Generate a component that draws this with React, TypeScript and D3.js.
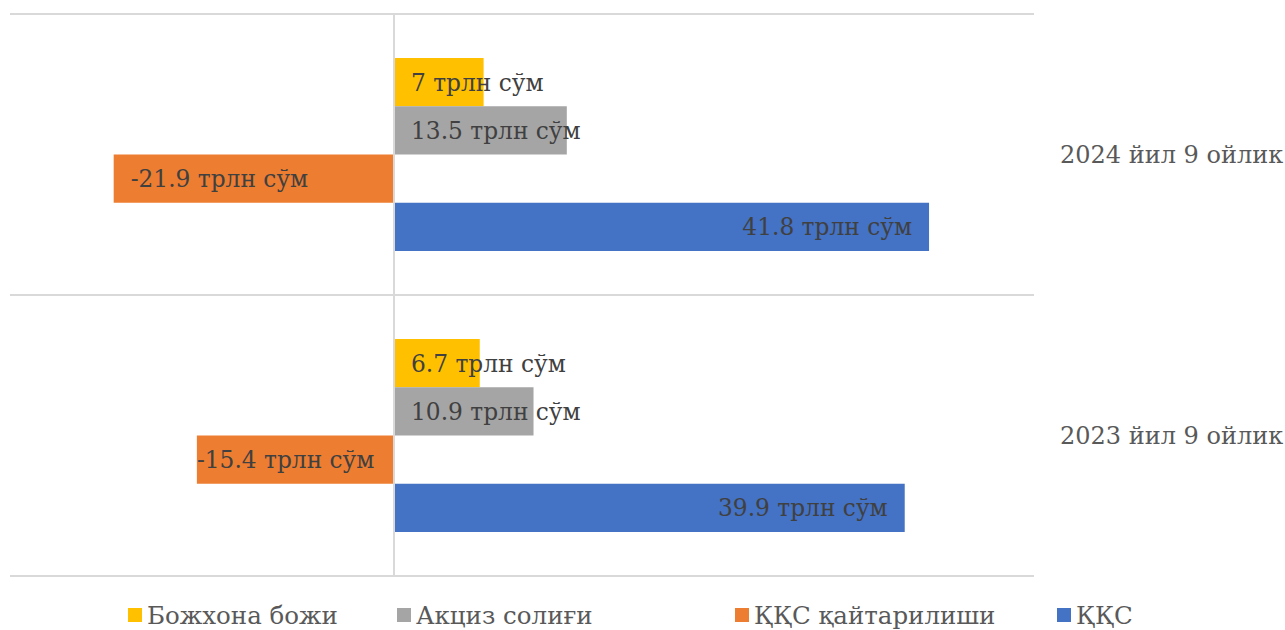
import React, { useEffect, useRef } from 'react';
import * as d3 from 'd3';

const svgWidth = 1285;
const svgHeight = 630;

const categories = ['2024 йил 9 ойлик', '2023 йил 9 ойлик'];
const seriesNames = ['Божхона божи', 'Акциз солиғи', 'ҚҚС қайтарилиши', 'ҚҚС'];
const seriesColors = ['#FFC000', '#A5A5A5', '#ED7D31', '#4472C4'];
// values per series, same order as categories
const customs = [7, 6.7];
const excise = [13.5, 10.9];
const vatRefund = [-21.9, -15.4];
const vat = [41.8, 39.9];
const seriesValues = [customs, excise, vatRefund, vat];
const unit = ' трлн сўм';

const FONT = '"DejaVu Serif", serif';
const labelSize = 23.3;
const catSize = 24;
const legendSize = 24.5;

const measure = (txt: string, size: number) => {
    const c = document.createElement('canvas').getContext('2d');
    if (!c) return txt.length * size * 0.55;
    c.font = size + 'px ' + FONT;
    return c.measureText(txt).width;
};

const App = () => {
    const ref = useRef<SVGSVGElement>(null);

    useEffect(() => {
        const svg = d3.select(ref.current);
        svg.selectAll('*').remove();

        const x = d3.scaleLinear().domain([-30, 50]).range([10, 1034]);
        const y = d3.scaleBand().domain(categories).range([14, 576]).padding(0);
        const inner = d3.scaleBand<number>().domain(d3.range(seriesNames.length))
            .range([44, y.bandwidth() - 44]).padding(0);

        // grid
        svg.append('g').selectAll('line')
            .data([14, 295, 576])
            .enter().append('line')
            .attr('x1', x(-30)).attr('x2', x(50))
            .attr('y1', d => d).attr('y2', d => d)
            .attr('stroke', '#d9d9d9').attr('stroke-width', 2);

        const groups = svg.selectAll('.cat')
            .data(categories)
            .enter().append('g')
            .attr('class', 'cat')
            .attr('transform', d => 'translate(0,' + y(d) + ')');

        groups.each(function (cat, ci) {
            const g = d3.select(this);
            seriesValues.forEach((vals, si) => {
                const v = vals[ci];
                const x0 = x(Math.min(0, v));
                const x1 = x(Math.max(0, v));
                const by = inner(si) as number;
                const bh = inner.bandwidth();
                g.append('rect')
                    .attr('x', x0).attr('y', by)
                    .attr('width', x1 - x0).attr('height', bh)
                    .attr('fill', seriesColors[si]);

                const txt = v + unit;
                const tw = measure(txt, labelSize);
                let tx = x(0) + 17;
                let anchor = 'start';
                if (si === 3) { tx = x1 - 17; anchor = 'end'; }
                if (si === 2) {
                    tx = (x1 - x0 - tw) < 34 ? x0 : x0 + 17;
                }
                g.append('text')
                    .attr('x', tx).attr('y', by + bh / 2)
                    .attr('dy', '0.36em')
                    .attr('text-anchor', anchor)
                    .attr('font-family', FONT)
                    .attr('font-size', labelSize)
                    .attr('fill', '#404040')
                    .text(txt);
            });

            g.append('text')
                .attr('x', 1060).attr('y', y.bandwidth() / 2)
                .attr('dy', '0.36em')
                .attr('font-family', FONT)
                .attr('font-size', catSize)
                .attr('fill', '#595959')
                .text(cat);
        });

        // zero line
        svg.append('line')
            .attr('x1', x(0)).attr('x2', x(0))
            .attr('y1', 14).attr('y2', 576)
            .attr('stroke', '#d9d9d9').attr('stroke-width', 2);

        // legend
        const legendX = [128, 397, 735, 1057];
        const leg = svg.selectAll('.leg')
            .data(seriesNames)
            .enter().append('g')
            .attr('class', 'leg')
            .attr('transform', (d, i) => 'translate(' + legendX[i] + ',608)');
        leg.append('rect')
            .attr('width', 14).attr('height', 14)
            .attr('fill', (d, i) => seriesColors[i]);
        leg.append('text')
            .attr('x', 19).attr('y', 7).attr('dy', '0.36em')
            .attr('font-family', FONT)
            .attr('font-size', legendSize)
            .attr('fill', '#595959')
            .text(d => d);
    }, []);

    return (
        <svg ref={ref} width={svgWidth} height={svgHeight}
            style={{ position: 'absolute', left: 0, top: 0 }} />
    );
};

export default App;
